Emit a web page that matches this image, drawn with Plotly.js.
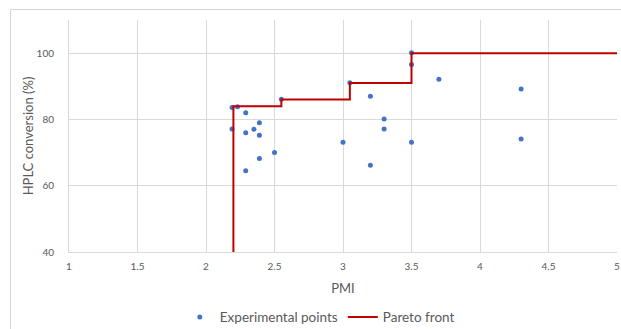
<!DOCTYPE html>
<html>
<head>
<meta charset="utf-8">
<script src="https://cdn.plot.ly/plotly-3.0.1.min.js"></script>
<style>html,body{margin:0;padding:0;background:#fff;}#chart{width:621px;height:329px;}</style>
</head>
<body>
<div id="chart"></div>
<script>
const expPMI = [2.19, 2.23, 2.29, 2.39, 2.19, 2.29, 2.35, 2.39, 2.50, 2.39, 2.29, 2.55,
                3.50, 3.50, 3.05, 3.70, 4.30, 3.20, 3.30, 3.30, 3.00, 3.50, 4.30, 3.20];
const expConv = [83.6, 83.8, 82.0, 79.0, 77.1, 76.0, 77.0, 75.2, 70.0, 68.2, 64.5, 86.1,
                 100.1, 96.6, 91.1, 92.1, 89.2, 87.0, 80.1, 77.1, 73.1, 73.1, 74.1, 66.2];
const paretoPMI = [2.2, 2.55, 3.05, 3.5, 5];
const paretoConv = [40, 84, 86, 91, 100];
const xTicks = [1, 1.5, 2, 2.5, 3, 3.5, 4, 4.5, 5];
const xTickText = ['1', '1.5', '2', '2.5', '3', '3.5', '4', '4.5', '5'];

const FONT = 'Lato, "Open Sans", sans-serif';
const grid = '#d9d9d9';

const traces = [
  {x: expPMI, y: expConv, type: 'scatter', mode: 'markers', name: 'Experimental points',
   marker: {color: '#4472C4', size: 5}},
  {x: paretoPMI, y: paretoConv, type: 'scatter', mode: 'lines', name: 'Pareto front',
   line: {color: '#C00000', width: 2, shape: 'vh'}}
];

const layout = {
  width: 621, height: 329,
  margin: {l: 69, r: 4, t: 20, b: 77},
  paper_bgcolor: '#fff', plot_bgcolor: '#fff',
  font: {family: FONT, color: '#595959', size: 10},
  showlegend: true,
  legend: {orientation: 'h', xref: 'container', yref: 'container', x: 0.515, y: 0.036,
           xanchor: 'center', yanchor: 'middle', font: {size: 13.5, color: '#595959'},
           itemwidth: 30, tracegroupgap: 0},
  xaxis: {range: [1, 5], tickvals: xTicks, ticktext: xTickText, showgrid: true, gridcolor: grid,
          showline: true, linecolor: grid, zeroline: false, ticks: '', ticklabelstandoff: 5,
          title: {text: 'PMI', font: {size: 13, color: '#595959'}, standoff: 12},
          tickfont: {size: 10, color: '#595959'}},
  yaxis: {range: [40, 110], tickvals: [40, 60, 80, 100], showgrid: true, gridcolor: grid,
          showline: true, linecolor: grid, zeroline: false, ticks: '', ticklabelstandoff: 12,
          title: {text: 'HPLC conversion (%)', font: {size: 13, color: '#595959'}, standoff: 0},
          tickfont: {size: 10, color: '#595959'}},
  shapes: [
    {type: 'rect', xref: 'paper', yref: 'paper', x0: -58.5/548, x1: 1 + 10/548, y0: -85/232, y1: 1 + 10.5/232,
     line: {color: '#d6d6d6', width: 1}, fillcolor: 'rgba(0,0,0,0)', layer: 'above'}
  ]
};

Plotly.newPlot('chart', traces, layout, {displayModeBar: false, staticPlot: true});
</script>
</body>
</html>
